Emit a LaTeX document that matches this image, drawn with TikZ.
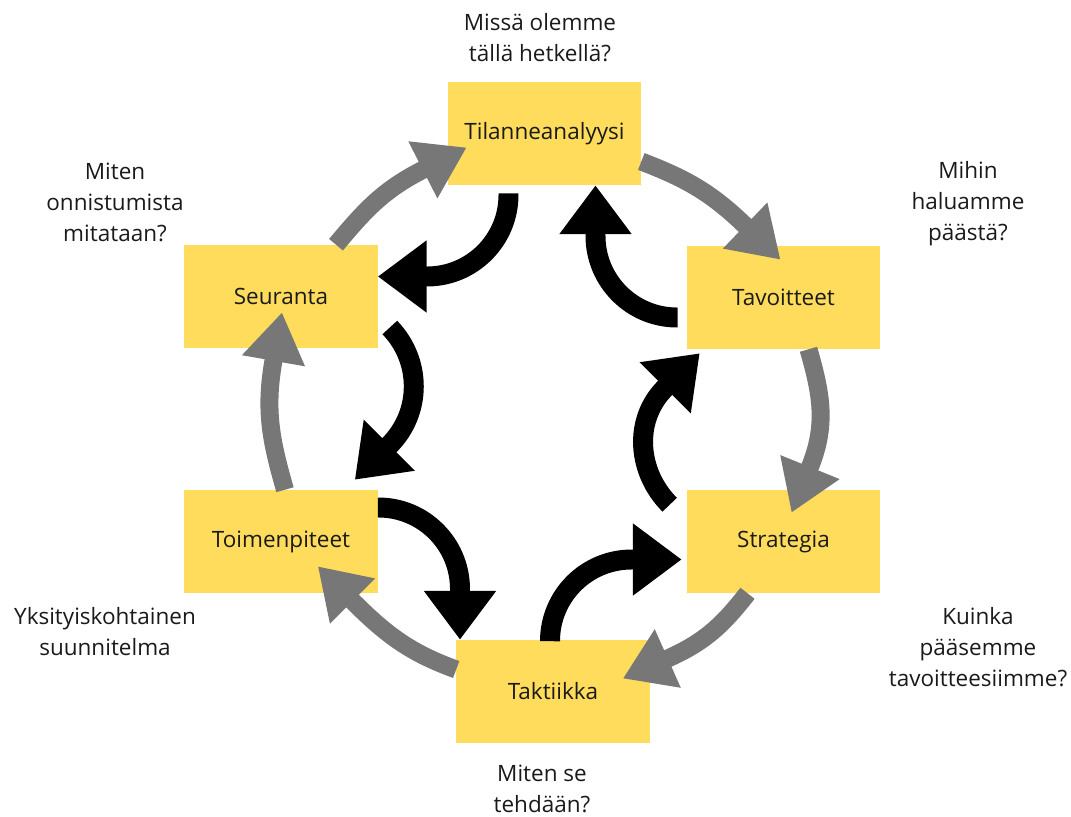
\documentclass[tikz,border=0pt]{standalone}
\usepackage{fontspec}
\setmainfont{Open Sans}
\usetikzlibrary{arrows.meta,calc}
\definecolor{Sun}{HTML}{FFDC5B}
\definecolor{Ash}{HTML}{777777}
\definecolor{Ink}{HTML}{1A1A1A}
\tikzset{
  phase/.style={fill=Sun,minimum width=4.825cm,minimum height=2.575cm,inner sep=0pt,text=Ink},
  ring/.style={draw=Ash,line width=12.8pt,-{Triangle[length=35pt,width=43pt]}},
  turn/.style={draw=black,line width=14.2pt,-{Triangle[length=34.7pt,width=49pt]}},
  question/.style={align=center,text=Ink},
}

\begin{document}
\begin{tikzpicture}[x=0.025cm,y=-0.025cm,font=\fontsize{16}{22}\selectfont]
  \useasboundingbox (0,0) rectangle (1071,816);
  % the six phases
  \node[phase] (tila) at (544.5,133.5) {Tilanneanalyysi};
  \node[phase] (tavo) at (783.5,297.5) {Tavoitteet};
  \node[phase] (stra) at (783.5,541.5) {Strategia};
  \node[phase] (takt) at (553,691.5) {Taktiikka};
  \node[phase] (toim) at (281,541.5) {Toimenpiteet};
  \node[phase] (seur) at (281,296.5) {Seuranta};
  % arrow tips of the ring and of the two bent turns
  \coordinate (g1) at ($(tavo.north)+(-3,14)$);
  \coordinate (g2) at ($(stra.north)+(8,23)$);
  \coordinate (g3) at ($(takt.east)+(-27,-13)$);
  \coordinate (g4) at ($(toim.south east)+(-60,-27)$);
  \coordinate (g5) at ($(seur.south)+(1,-36)$);
  \coordinate (g6) at ($(tila.west)+(19,14)$);
  \coordinate (b2) at ($(toim.north east)+(-23,-10)$);
  \coordinate (b5) at ($(tavo.south west)+(13,4)$);
  % outer grey ring
  \draw[ring] ($(tila.east)+(0,28)$) to[out=-21,in=136] ($(g1)+(136:35pt)$) -- (g1);
  \draw[ring] ($(tavo.south)+(25,0)$) to[out=-74,in=68] ($(g2)+(68:35pt)$) -- (g2);
  \draw[ring] ($(stra.south)+(-36,0)$) to[out=-128,in=24] ($(g3)+(24:35pt)$) -- (g3);
  \draw[ring] ($(takt.west)+(0,-22)$) to[out=160,in=-45] ($(g4)+(-45:35pt)$) -- (g4);
  \draw[ring] ($(toim.north)+(4,0)$) to[out=106,in=-100] ($(g5)+(-100:35pt)$) -- (g5);
  \draw[ring] ($(seur.north)+(55,0)$) to[out=50,in=-153] ($(g6)+(-153:35pt)$) -- (g6);
  % inner black turns
  \draw[turn,rounded corners=58pt] ($(tila.south)+(-36,8)$) |- ($(seur.east)+(0,-20)$);
  \draw[turn] ($(seur.east)+(12,31)$) to[out=-46,in=45] ($(b2)+(45:34.7pt)$) -- (b2);
  \draw[turn,rounded corners=58pt] ($(toim.east)+(0,-34)$) -| ($(takt.north)+(-93,0)$);
  \draw[turn,rounded corners=58pt] ($(takt.north)+(-3,0)$) |- ($(stra.west)+(-5,18)$);
  \draw[turn] ($(stra.north west)+(-17,15)$) to[out=135,in=-135] ($(b5)+(-135:34.7pt)$) -- (b5);
  \draw[turn,rounded corners=58pt] ($(tavo.west)+(-9,20)$) -| ($(tila.south)+(51,0)$);
  % questions
  \node[question] (qtila) at (540,38) {Missä olemme\\tällä hetkellä?};
  \node[question] (qtavo) at (968,204) {Mihin\\haluamme\\päästä?};
  \node[question] (qstra) at (978,647) {Kuinka\\pääsemme\\tavoitteesiimme?};
  \node[question] (qtakt) at (542,789) {Miten se\\tehdään?};
  \node[question] (qtoim) at (105,632) {Yksityiskohtainen\\suunnitelma};
  \node[question] (qseur) at (115,202) {Miten\\onnistumista\\mitataan?};
\end{tikzpicture}
\end{document}
